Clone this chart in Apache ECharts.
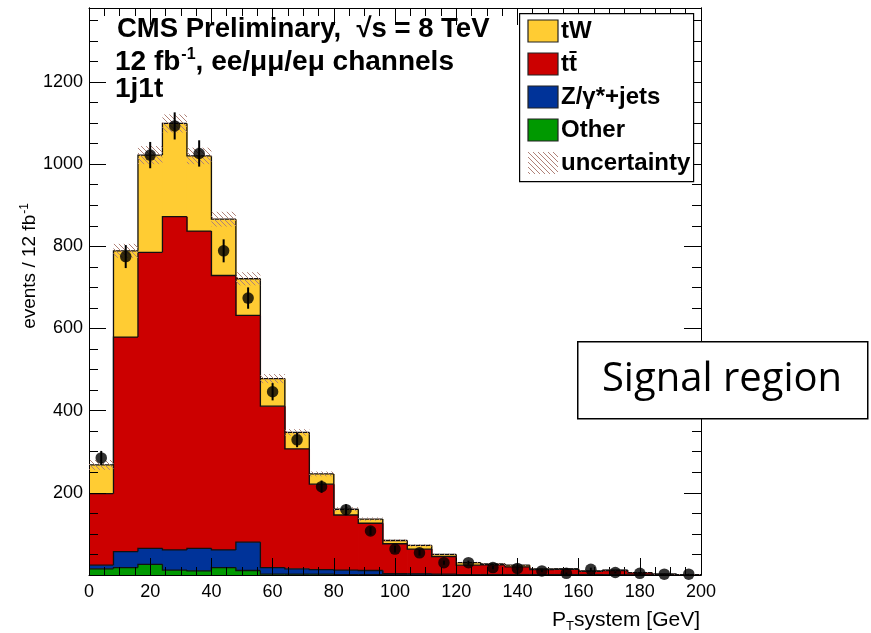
<!DOCTYPE html>
<html>
<head>
<meta charset="utf-8">
<script src="https://cdn.jsdelivr.net/npm/echarts@6/dist/echarts.min.js"></script>
<style>
  html, body { margin: 0; padding: 0; background: #fff; }
  #chart { width: 871px; height: 633px; }
</style>
</head>
<body>
<div id="chart"></div>
<script>
// Binning of the P_T(system) histogram (GeV)
const binLow = [0, 8, 16, 24, 32, 40, 48, 56, 64, 72, 80, 88, 96, 104, 112, 120, 128, 136, 144, 152, 160, 168, 176, 184, 192];
const binWidth = 8;

// Stacked expectations per bin (events / 12 fb^-1)
const tW     = [70, 210, 237, 227, 183, 137, 89, 67, 40, 25, 14, 10, 8, 9, 5, 6, 2, 4, 2, 1, 1, 1, 1, 0, 0];
const ttbar  = [174, 522, 720, 811, 772, 668, 552, 393, 292, 208, 134, 115, 73, 60, 43, 23, 24, 19, 12, 13, 8, 11, 5, 2, 1];
const zjets  = [9, 39, 39, 49, 55, 43, 69, 16, 13, 11, 11, 10, 3, 3, 2, 1, 1, 1, 1, 1, 1, 0, 0, 0, 0];
const other  = [15, 18, 26, 12, 10, 18, 11, 2, 2, 2, 1, 1, 0, 0, 0, 0, 0, 0, 0, 0, 0, 0, 0, 0, 0];

// Systematic uncertainty on the total expectation
const uncertainty = [12, 17, 22, 22, 20, 18, 16, 11, 8, 6, 5, 4, 3, 3, 2, 2, 2, 2, 1, 1, 1, 1, 1, 1, 1];

// Observed data and its statistical error
const observed = [285, 775, 1022, 1093, 1026, 789, 674, 446, 329, 215, 159, 107, 63, 54, 30, 30, 18, 16, 10, 4, 14, 6, 4, 2, 2];
const observedErr = [17, 28, 32, 33, 32, 28, 26, 21, 18, 15, 13, 10, 8, 7, 5, 5, 4, 4, 3, 2, 4, 2, 2, 1, 1];

// Axis ticks
const xTicks = { min: 0, max: 200, major: 20, minorSplit: 4 };
const yTicks = { min: 0, max: 1380, major: 200, minor: 50 };

const FONT = 'Liberation Sans, Arial, Helvetica, sans-serif';

// Components from bottom to top of the stack
const components = [
  { name: 'Other',        values: other, color: '#009900' },
  { name: 'Z/\u03b3*+jets', values: zjets, color: '#003399' },
  { name: 't\u0074\u0304',  values: ttbar, color: '#cc0000' },
  { name: 'tW',           values: tW,    color: '#ffcc33' }
];

function cumulative(k, i) {
  let s = 0;
  for (let c = 0; c <= k; c++) s += components[c].values[i];
  return s;
}

// Diagonal hatch pattern for the uncertainty band
const hatch = document.createElement('canvas');
hatch.width = 5; hatch.height = 5;
(function () {
  const g = hatch.getContext('2d');
  g.strokeStyle = '#b08278';
  g.lineWidth = 1;
  g.beginPath();
  g.moveTo(0, 0); g.lineTo(5, 5);
  g.moveTo(-1, 4); g.lineTo(1, 6);
  g.moveTo(4, -1); g.lineTo(6, 1);
  g.stroke();
})();
const hatchFill = { image: hatch, repeat: 'repeat' };

function stackSeries(k) {
  const comp = components[k];
  return {
    type: 'custom',
    name: comp.name,
    xAxisIndex: 0, yAxisIndex: 0,
    clip: true,
    z: 2 + (components.length - k),
    data: binLow.map((x, i) => [x, comp.values[i]]),
    renderItem: function (params, api) {
      const i = params.dataIndex;
      const x0 = binLow[i], x1 = x0 + binWidth;
      const hi = cumulative(k, i);
      const lo = hi - comp.values[i];
      const prevHi = i > 0 ? cumulative(k, i - 1) : 0;
      const tl = api.coord([x0, hi]);
      const br = api.coord([x1, lo]);
      const pPrev = api.coord([x0, prevHi]);
      const pEnd = api.coord([x1, hi]);
      const overlap = i < binLow.length - 1 ? 0.7 : 0;
      const children = [{
        type: 'rect',
        shape: { x: tl[0], y: tl[1], width: br[0] - tl[0] + overlap, height: br[1] - tl[1] },
        style: { fill: comp.color }
      }, {
        type: 'polyline',
        shape: { points: [pPrev, tl, pEnd] },
        style: { stroke: '#111', lineWidth: 1.3, fill: null }
      }];
      return { type: 'group', children: children };
    }
  };
}

const series = [];
for (let k = components.length - 1; k >= 0; k--) series.push(stackSeries(k));

series.push({
  type: 'custom',
  name: 'uncertainty',
  xAxisIndex: 0, yAxisIndex: 0,
  clip: true,
  z: 10,
  data: binLow.map((x, i) => [x, uncertainty[i]]),
  renderItem: function (params, api) {
    const i = params.dataIndex;
    const tot = cumulative(components.length - 1, i);
    const a = api.coord([binLow[i], tot + uncertainty[i]]);
    const b = api.coord([binLow[i] + binWidth, tot - uncertainty[i]]);
    return {
      type: 'rect',
      shape: { x: a[0], y: a[1], width: b[0] - a[0], height: b[1] - a[1] },
      style: { fill: hatchFill }
    };
  }
});

series.push({
  type: 'custom',
  name: 'data errors',
  xAxisIndex: 0, yAxisIndex: 0,
  clip: true,
  z: 11,
  data: binLow.map((x, i) => [x + binWidth / 2, observed[i], observedErr[i]]),
  renderItem: function (params, api) {
    const x = api.value(0), y = api.value(1), e = api.value(2);
    const p1 = api.coord([x, y - e]);
    const p2 = api.coord([x, y + e]);
    return {
      type: 'line',
      shape: { x1: p1[0], y1: p1[1], x2: p2[0], y2: p2[1] },
      style: { stroke: '#000', lineWidth: 2 }
    };
  }
});

series.push({
  type: 'scatter',
  name: 'Data',
  xAxisIndex: 0, yAxisIndex: 0,
  z: 12,
  symbol: 'circle',
  symbolSize: 11.5,
  itemStyle: { color: '#000' },
  data: binLow.map((x, i) => [x + binWidth / 2, observed[i]])
});

function xAxisDef(pos, labels) {
  return {
    type: 'value', position: pos, z: 9,
    min: xTicks.min, max: xTicks.max, interval: xTicks.major,
    axisLine: { show: true, onZero: false, lineStyle: { color: '#000', width: 1 } },
    axisTick: { show: true, inside: true, length: 17, lineStyle: { color: '#000', width: 1 } },
    minorTick: { show: true, splitNumber: xTicks.minorSplit, length: 8, lineStyle: { color: '#000', width: 1 } },
    axisLabel: { show: labels, color: '#000', fontSize: 18, fontFamily: FONT, margin: 8 },
    splitLine: { show: false }
  };
}

function yAxisDef(pos, interval, tickLen, labels) {
  return {
    type: 'value', position: pos, z: 9,
    min: yTicks.min, max: yTicks.max, interval: interval,
    axisLine: { show: true, onZero: false, lineStyle: { color: '#000', width: 1 } },
    axisTick: { show: true, inside: true, length: tickLen, lineStyle: { color: '#000', width: 1 } },
    axisLabel: { show: labels, color: '#000', fontSize: 18, fontFamily: FONT, margin: 6,
                 showMinLabel: false, showMaxLabel: false,
                 formatter: v => String(v) },
    splitLine: { show: false }
  };
}

// Legend drawn as a boxed list of swatches
const legendEntries = [
  { label: 'tW', fill: '#ffcc33' },
  { label: 't\u0074\u0304', fill: '#cc0000' },
  { label: 'Z/\u03b3*+jets', fill: '#003399' },
  { label: 'Other', fill: '#009900' },
  { label: 'uncertainty', fill: hatchFill, noStroke: true }
];
const legendGraphics = [{
  type: 'rect', left: 519, top: 13, z: 20,
  shape: { width: 174, height: 168 },
  style: { fill: '#fff', stroke: '#000', lineWidth: 1.2 }
}];
legendEntries.forEach((e, k) => {
  legendGraphics.push({
    type: 'rect', x: 528, y: 20 + 33 * k, z: 21,
    shape: { width: 30, height: 22 },
    style: { fill: e.fill, stroke: e.noStroke ? null : '#222', lineWidth: 1.2 }
  });
  legendGraphics.push({
    type: 'text', x: 561, y: 31 + 33 * k, z: 21,
    style: { text: e.label, fill: '#000', font: 'bold 24px ' + FONT, verticalAlign: 'middle', align: 'left' }
  });
});

const chart = echarts.init(document.getElementById('chart'), null, { renderer: 'canvas' });
chart.setOption({
  animation: false,
  backgroundColor: '#fff',
  grid: { left: 89, top: 8, width: 612, height: 567, containLabel: false },
  xAxis: [xAxisDef('bottom', true), xAxisDef('top', false)],
  yAxis: [
    yAxisDef('left', yTicks.major, 17, true),
    yAxisDef('left', yTicks.minor, 9, false),
    yAxisDef('right', yTicks.major, 17, false),
    yAxisDef('right', yTicks.minor, 9, false)
  ],
  series: series,
  graphic: legendGraphics.concat([
    {
      type: 'text', x: 117, y: 29, z: 20,
      style: { text: 'CMS Preliminary,  \u221as = 8 TeV', fill: '#000', font: 'bold 27.5px ' + FONT, verticalAlign: 'middle' }
    },
    {
      type: 'text', x: 115, y: 62, z: 20,
      style: {
        text: '12 fb{sup|-1}, ee/\u03bc\u03bc/e\u03bc channels', fill: '#000', font: 'bold 28px ' + FONT, verticalAlign: 'middle',
        rich: { sup: { font: 'bold 16px ' + FONT, padding: [0, 0, 14, 1] } }
      }
    },
    {
      type: 'text', x: 115, y: 89, z: 20,
      style: { text: '1j1t', fill: '#000', font: 'bold 28px ' + FONT, verticalAlign: 'middle' }
    },
    {
      type: 'text', x: 30, y: 266, rotation: Math.PI / 2, z: 20,
      style: {
        text: 'events / 12 fb{sup|-1}', fill: '#000', font: '19px ' + FONT, align: 'center', verticalAlign: 'middle',
        rich: { sup: { font: '12px ' + FONT, padding: [0, 0, 10, 1] } }
      }
    },
    {
      type: 'text', x: 700, y: 620, z: 20,
      style: {
        text: 'P{sub|T}system [GeV]', fill: '#000', font: '21px ' + FONT, align: 'right', verticalAlign: 'middle',
        rich: { sub: { font: '13px ' + FONT, padding: [12, 0, 0, 0] } }
      }
    },
    {
      type: 'rect', left: 577, top: 341, z: 30,
      shape: { width: 290, height: 77 },
      style: { fill: '#fff', stroke: '#000', lineWidth: 1.5 }
    },
    {
      type: 'text', x: 722, y: 380, z: 31,
      style: { text: 'Signal region', fill: '#000', font: '40px "Open Sans", sans-serif', align: 'center', verticalAlign: 'middle' }
    }
  ])
});
</script>
</body>
</html>
